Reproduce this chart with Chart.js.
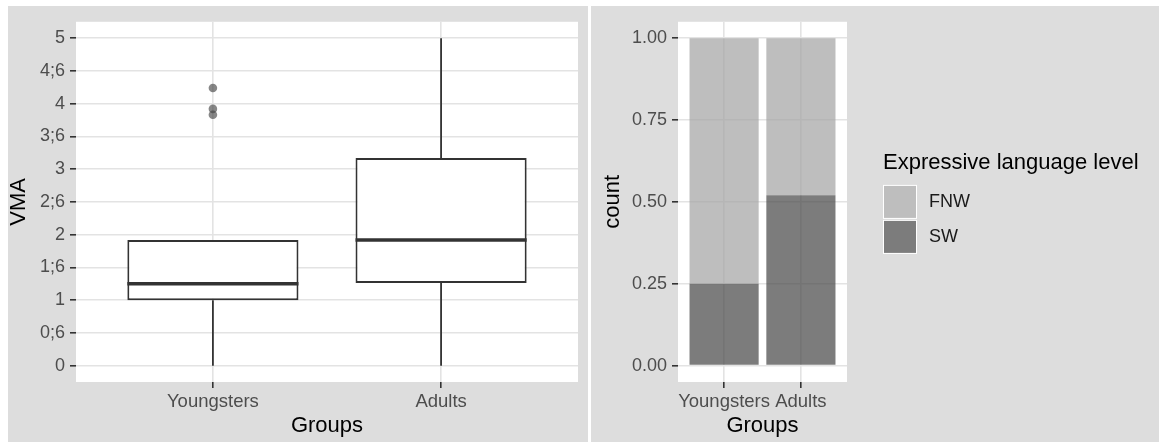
<!DOCTYPE html>
<html>
<head>
<meta charset="utf-8">
<script src="https://cdn.jsdelivr.net/npm/chart.js@4.4.1/dist/chart.umd.min.js"></script>
<style>
  html, body { margin: 0; padding: 0; background: #fff; }
  body { width: 1164px; height: 442px; position: relative; overflow: hidden; }
  canvas { position: absolute; top: 6px; background: #dddddd; }
  #vma { left: 8px; }
  #share { left: 591px; }
</style>
</head>
<body>
<canvas id="vma" width="580" height="436"></canvas>
<canvas id="share" width="568" height="436"></canvas>
<script>
// groups on the x axis
const groups = ["Youngsters", "Adults"];

// box plot summaries (VMA)
const whiskerLow = [0, 0];
const q1 = [1.0, 1.26];
const median = [1.25, 1.92];
const q3 = [1.92, 3.17];
const whiskerHigh = [1.92, 5.0];
const outliers = [[4.24, 3.92, 3.83], []];

const vmaTicks = [0, 0.5, 1, 1.5, 2, 2.5, 3, 3.5, 4, 4.5, 5];
const vmaLabels = ["0", "0;6", "1", "1;6", "2", "2;6", "3", "3;6", "4", "4;6", "5"];

// expressive language level shares
const levels = ["FNW", "SW"];
const fnwShare = [0.75, 0.48];
const swShare = [0.25, 0.52];

const countTicks = [0, 0.25, 0.5, 0.75, 1];
const countLabels = ["0.00", "0.25", "0.50", "0.75", "1.00"];

const FONT = "'Liberation Sans', Arial, Helvetica, sans-serif";
const levelColors = { FNW: "rgba(162,162,162,0.7)", SW: "rgba(68,68,68,0.7)" };

Chart.defaults.font.family = FONT;

// white panel behind the grid
const panelBg = {
    id: "panelBg",
    beforeDraw(chart) {
        const { ctx, chartArea: a } = chart;
        ctx.save();
        ctx.fillStyle = "#ffffff";
        ctx.fillRect(a.left, a.top, a.right - a.left, a.bottom - a.top);
        ctx.restore();
    },
};

// whiskers and median line on top of the floating bars
const boxParts = {
    id: "boxParts",
    afterDatasetsDraw(chart) {
        const { ctx, scales: { x, y } } = chart;
        const bars = chart.getDatasetMeta(0).data;
        const seg = (x1, y1, x2, y2) => {
            ctx.beginPath();
            ctx.moveTo(x1, y1);
            ctx.lineTo(x2, y2);
            ctx.stroke();
        };
        ctx.save();
        ctx.strokeStyle = "#333333";
        bars.forEach((bar, i) => {
            const cx = x.getPixelForValue(i + 1);
            ctx.lineWidth = 1.8;
            seg(cx, y.getPixelForValue(whiskerLow[i]), cx, y.getPixelForValue(q1[i]));
            seg(cx, y.getPixelForValue(q3[i]), cx, y.getPixelForValue(whiskerHigh[i]));
            ctx.lineWidth = 3.5;
            const my = y.getPixelForValue(median[i]);
            seg(bar.x - bar.width / 2, my, bar.x + bar.width / 2, my);
        });
        ctx.restore();
    },
};

// ggplot-like legend to the right of the panel
const sideLegend = {
    id: "sideLegend",
    afterDraw(chart) {
        const { ctx, chartArea: a } = chart;
        const mid = (a.top + a.bottom) / 2;
        const x0 = a.right + 36;
        ctx.save();
        ctx.fillStyle = "#000000";
        ctx.font = "22px " + FONT;
        ctx.textBaseline = "middle";
        ctx.textAlign = "left";
        ctx.fillText("Expressive language level", x0, mid - 39);
        ctx.font = "18px " + FONT;
        levels.forEach((lv, i) => {
            const ky = mid - 17 + i * 35;
            ctx.fillStyle = "#ffffff";
            ctx.fillRect(x0, ky, 34, 34);
            ctx.fillStyle = levelColors[lv];
            ctx.fillRect(x0 + 1, ky + 1, 32, 32);
            ctx.fillStyle = "#1a1a1a";
            ctx.fillText(lv, x0 + 46, ky + 17);
        });
        ctx.restore();
    },
};

function axisBase(ticksFont) {
    return {
        border: { display: false },
        offset: false,
        grid: {
            offset: false,
            color: "#e3e3e3",
            lineWidth: 1.6,
            tickColor: "#333333",
            tickLength: 6,
            tickWidth: 1.6,
        },
        ticks: {
            color: "#4d4d4d",
            font: { size: ticksFont },
            autoSkip: false,
            maxRotation: 0,
            minRotation: 0,
        },
    };
}

function groupAxis(height) {
    const ax = axisBase(18.5);
    ax.type = "linear";
    ax.min = 0.4;
    ax.max = 2.6;
    ax.ticks.padding = 3;
    ax.ticks.callback = (v) => groups[v - 1];
    ax.afterBuildTicks = (axis) => { axis.ticks = groups.map((g, i) => ({ value: i + 1 })); };
    ax.afterFit = (axis) => { axis.height = height; };
    ax.title = {
        display: true,
        text: "Groups",
        color: "#000000",
        font: { size: 22, lineHeight: 1.2 },
        padding: { top: 0, bottom: 3 },
    };
    return ax;
}

function valueAxis(min, max, tickVals, tickLabels, title, width, titlePad) {
    const ax = axisBase(18);
    ax.min = min;
    ax.max = max;
    ax.ticks.padding = 5;
    ax.ticks.callback = (v, idx) => tickLabels[idx];
    ax.afterBuildTicks = (axis) => { axis.ticks = tickVals.map((v) => ({ value: v })); };
    ax.afterFit = (axis) => { axis.width = width; };
    ax.title = {
        display: true,
        text: title,
        color: "#000000",
        font: { size: 22, lineHeight: 1 },
        padding: { top: titlePad, bottom: 0 },
    };
    return ax;
}

const common = {
    responsive: false,
    animation: false,
    devicePixelRatio: 1,
    events: [],
};

// left: VMA box plot
new Chart(document.getElementById("vma"), {
    type: "bar",
    data: {
        datasets: [
            {
                type: "bar",
                label: "box",
                data: groups.map((g, i) => ({ x: i + 1, y: [q1[i], q3[i]] })),
                backgroundColor: "#ffffff",
                borderColor: "#333333",
                borderWidth: 2,
                borderSkipped: false,
                barPercentage: 0.75,
                categoryPercentage: 1,
            },
            {
                type: "scatter",
                label: "outliers",
                data: outliers.flatMap((vals, i) => vals.map((v) => ({ x: i + 1, y: v }))),
                backgroundColor: "rgba(70,70,70,0.65)",
                borderWidth: 0,
                pointRadius: 4.3,
            },
        ],
    },
    options: {
        ...common,
        layout: { padding: { top: 7, right: 10, left: 0, bottom: 0 } },
        plugins: { legend: { display: false }, tooltip: { enabled: false } },
        scales: {
            x: groupAxis(60),
            y: valueAxis(-0.25, 5.25, vmaTicks, vmaLabels, "VMA", 68, 0),
        },
    },
    plugins: [panelBg, boxParts],
});

// right: stacked shares
const shareX = groupAxis(60);
shareX.stacked = true;
const shareY = valueAxis(-0.05, 1.05, countTicks, countLabels, "count", 87, 11);
shareY.stacked = true;

new Chart(document.getElementById("share"), {
    type: "bar",
    data: {
        datasets: [
            {
                label: "SW",
                data: groups.map((g, i) => ({ x: i + 1, y: swShare[i] })),
                backgroundColor: levelColors.SW,
                barPercentage: 0.9,
                categoryPercentage: 1,
            },
            {
                label: "FNW",
                data: groups.map((g, i) => ({ x: i + 1, y: fnwShare[i] })),
                backgroundColor: levelColors.FNW,
                barPercentage: 0.9,
                categoryPercentage: 1,
            },
        ],
    },
    options: {
        ...common,
        layout: { padding: { top: 7, right: 312, left: 0, bottom: 0 } },
        plugins: { legend: { display: false }, tooltip: { enabled: false } },
        scales: { x: shareX, y: shareY },
    },
    plugins: [panelBg, sideLegend],
});
</script>
</body>
</html>
